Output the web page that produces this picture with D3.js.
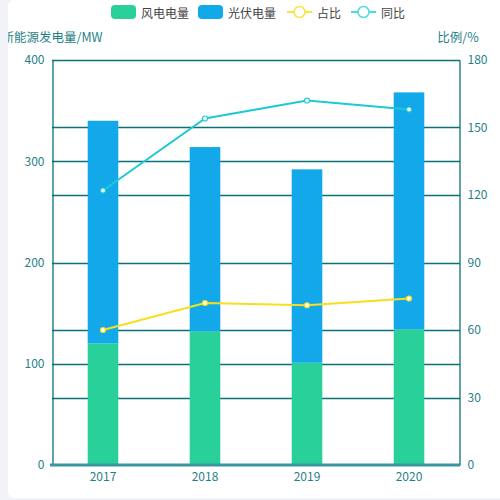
<!DOCTYPE html>
<html><head><meta charset="utf-8">
<script src="https://cdn.jsdelivr.net/npm/d3@7"></script>
<style>
html,body{margin:0;padding:0;background:#f2f3f8;}
svg{display:block;}
text{font-family:"Noto Sans CJK SC","Noto Sans",sans-serif;}
</style></head>
<body>
<svg id="c" width="500" height="500"></svg>
<script>
const years = ["2017","2018","2019","2020"];
const windValues = [120, 132, 101, 134];
const solarValues = [220, 182, 191, 234];
const shareValues = [60, 72, 71, 74];
const yoyValues = [122, 154, 162, 158];
const leftTicks = [0, 100, 200, 300, 400];
const rightTicks = [0, 30, 60, 90, 120, 150, 180];
const seriesNames = ["风电电量", "光伏电量", "占比", "同比"];

const colors = {wind:"#29d09a", solar:"#12a8e9", share:"#f7df1c", yoy:"#1ec9d4"};
const axisColor = "#0a7277";
const labelColor = "#1f8187";

const svg = d3.select("#c");
const m = {left:52, right:460, top:60, bottom:465};

// card
svg.append("defs").append("clipPath").attr("id","card")
  .append("rect").attr("x",8).attr("y",0).attr("width",500).attr("height",498).attr("rx",6);
svg.append("rect").attr("x",8).attr("y",0).attr("width",500).attr("height",498).attr("rx",6).attr("fill","#fff");
const g = svg.append("g").attr("clip-path","url(#card)");

const x = d3.scaleBand().domain(years).range([m.left, m.right]).paddingInner(0).paddingOuter(0);
const yL = d3.scaleLinear().domain([0,400]).range([m.bottom, m.top]);
const yR = d3.scaleLinear().domain([0,180]).range([m.bottom, m.top]);

// grid lines (snapped to pixels)
const snap = v => Math.round(v) + 0.5;
const gridYs = Array.from(new Set(leftTicks.filter(d=>d>0).map(yL).concat(rightTicks.filter(d=>d>0).map(yR)).map(snap)));
g.selectAll("line.grid").data(gridYs).join("line").attr("class","grid")
  .attr("x1",m.left).attr("x2",m.right).attr("y1",d=>d).attr("y2",d=>d)
  .attr("stroke",axisColor).attr("stroke-width",1.3);

// left axis
const axL = d3.axisLeft(yL).tickValues(leftTicks).tickSize(0).tickPadding(8);
const gL = g.append("g").attr("transform",`translate(${m.left+0.5},0)`).call(axL);
gL.select(".domain").attr("stroke",axisColor).attr("stroke-width",1.3);
gL.selectAll("text").attr("fill",labelColor).attr("font-size",12);

// right axis
const axR = d3.axisRight(yR).tickValues(rightTicks).tickSize(0).tickPadding(8);
const gR = g.append("g").attr("transform",`translate(${m.right - 0.5},0)`).call(axR);
gR.select(".domain").attr("stroke",axisColor).attr("stroke-width",1.3);
gR.selectAll("text").attr("fill",labelColor).attr("font-size",12);

// axis names
g.append("text").attr("x",m.left).attr("y",42).attr("text-anchor","middle")
  .attr("fill",labelColor).attr("font-size",12.5).text("新能源发电量/MW");
g.append("text").attr("x",m.right-2).attr("y",42).attr("text-anchor","middle")
  .attr("fill",labelColor).attr("font-size",12.5).text("比例/%");

// bars
const bw = x.bandwidth()*0.3;
const bx = d => x(d) + x.bandwidth()/2 - bw/2;
g.selectAll("rect.wind").data(years).join("rect").attr("class","wind")
  .attr("x",bx).attr("width",bw)
  .attr("y",(d,i)=>yL(windValues[i])).attr("height",(d,i)=>yL(0)-yL(windValues[i]))
  .attr("fill",colors.wind);
g.selectAll("rect.solar").data(years).join("rect").attr("class","solar")
  .attr("x",bx).attr("width",bw)
  .attr("y",(d,i)=>yL(windValues[i]+solarValues[i])).attr("height",(d,i)=>yL(windValues[i])-yL(windValues[i]+solarValues[i]))
  .attr("fill",colors.solar);

// bottom axis
const axB = d3.axisBottom(x).tickSize(0).tickPadding(7);
const gB = g.append("g").attr("transform",`translate(0,${m.bottom})`).call(axB);
gB.select(".domain").remove();
gB.append("line").attr("x1",m.left-2).attr("x2",m.right).attr("y1",0).attr("y2",0)
  .attr("stroke","#3b979f").attr("stroke-width",3);
gB.selectAll("text").attr("fill",labelColor).attr("font-size",12);

// lines
const cx = d => x(d) + x.bandwidth()/2;
function drawLine(vals, col){
  const line = d3.line().x((d,i)=>cx(years[i])).y(d=>yR(d));
  g.append("path").datum(vals).attr("d",line).attr("fill","none").attr("stroke",col).attr("stroke-width",2);
  g.selectAll(null).data(vals).join("circle").attr("cx",(d,i)=>cx(years[i])).attr("cy",d=>yR(d))
    .attr("r",2.5).attr("fill","#fff").attr("stroke",col).attr("stroke-width",1.2);
}
drawLine(shareValues, colors.share);
drawLine(yoyValues, colors.yoy);

// legend
const lg = g.append("g");
const legendItems = [
  {name:seriesNames[0], type:"rect", color:colors.wind, x:111},
  {name:seriesNames[1], type:"rect", color:colors.solar, x:198},
  {name:seriesNames[2], type:"line", color:"#f8e53c", x:287},
  {name:seriesNames[3], type:"line", color:"#4ddbe3", x:351}
];
legendItems.forEach(it=>{
  if(it.type==="rect"){
    lg.append("rect").attr("x",it.x).attr("y",5).attr("width",25).attr("height",14).attr("rx",4).attr("fill",it.color);
  } else {
    lg.append("line").attr("x1",it.x).attr("x2",it.x+25).attr("y1",12).attr("y2",12).attr("stroke",it.color).attr("stroke-width",2);
    lg.append("circle").attr("cx",it.x+12.5).attr("cy",12).attr("r",5.5).attr("fill","#fff").attr("stroke",it.color).attr("stroke-width",1.5);
  }
  lg.append("text").attr("x",it.x+30).attr("y",12).attr("dominant-baseline","central")
    .attr("fill","#444").attr("font-size",12).text(it.name);
});
</script>
</body></html>
